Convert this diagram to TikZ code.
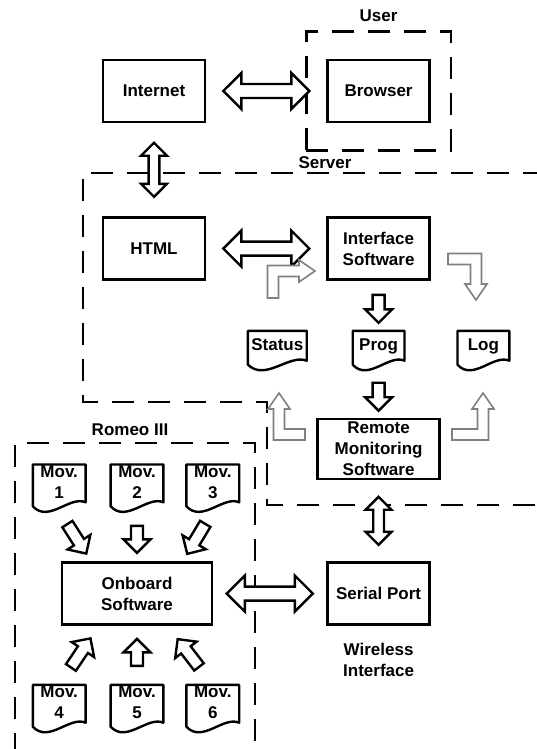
\documentclass[tikz,border=0pt]{standalone}
\usepackage{fontspec}
\setmainfont{Liberation Sans}
\usetikzlibrary{arrows.meta,positioning,shapes.arrows,calc,fit}

% paper sheet with a wavy lower edge, drawn round node #1
\newcommand{\docoutline}[1]{%
  \draw[docline] ($(#1.south west)+(0,-5)$) -- (#1.north west) -- (#1.north east)
    -- ($(#1.south east)+(0,-9)$)
    .. controls ($(#1.south east)!0.3!(#1.south west)+(0,-16)$)
    and ($(#1.south east)!0.7!(#1.south west)+(0,12)$) .. ($(#1.south west)+(0,-5)$) -- cycle;}

% hollow elbow arrow: #1 transform, #2 corner, #3 tail length, #4 tip distance
\newcommand{\bentarrow}[4]{%
  \begin{scope}[shift={#2},#1]
    \draw[bent] (-#3,-5.5) -- (-5.5,-5.5) -- (-5.5,{-#4+16}) -- (-11,{-#4+16}) -- (0,-#4)
      -- (11,{-#4+16}) -- (5.5,{-#4+16}) -- (5.5,5.5) -- (-#3,5.5) -- cycle;
  \end{scope}}

\begin{document}
\begin{tikzpicture}[x=0.5pt, y=-0.5pt,
    font=\fontsize{8.5}{10.5}\selectfont\bfseries,
    box/.style={draw, line width=1.3pt, minimum width=51pt, minimum height=31pt, align=center},
    doc/.style={minimum width=#1, minimum height=19pt, inner sep=0pt, align=center, text depth=6pt},
    docline/.style={line width=1.2pt, line join=round},
    zone/.style={draw, line width=1.4pt, dash pattern=on 11pt off 7pt},
    blk/.style={draw, line width=1.2pt, fill=white, sloped, allow upside down, inner xsep=0pt},
    sarr/.style={blk, single arrow, inner ysep=2.4pt, single arrow head extend=3.75pt, minimum height=#1},
    darr/.style={blk, double arrow, inner ysep=2.1pt, double arrow head extend=3.75pt, minimum height=#1},
    bigarr/.style={blk, double arrow, inner ysep=2.9pt, double arrow head extend=5.5pt, minimum height=43pt},
    bent/.style={draw=gray, line width=0.8pt, fill=white}
]
\useasboundingbox (0,0) rectangle (536,749);

% user side and web server
\node[box] (inet) at (154,91) {Internet};
\node[box, right=60pt of inet] (brow) {Browser};
\node[box, below=46.5pt of inet] (html) {HTML};
\node[box, right=60pt of html] (iface) {Interface\\Software};
\node[doc=25.5pt, below=25pt of iface] (prog) {Prog};
\node[doc=29pt, left=23pt of prog] (stat) {Status};
\node[doc=25.5pt, right=26.5pt of prog] (log) {Log};
\node[box, minimum width=61pt, minimum height=30pt, inner ysep=0pt, below=24pt of prog] (rms) {Remote\\Monitoring\\Software};
\node[box, below=40.5pt of rms] (ser) {Serial Port};

% robot side
\node[box, minimum width=75pt, left=56.5pt of ser] (onb) {Onboard\\Software};
\node[doc=26pt, minimum height=23pt, above=25pt of onb] (mov2) {Mov.\\2};
\node[doc=26pt, minimum height=23pt, left=12.5pt of mov2] (mov1) {Mov.\\1};
\node[doc=26pt, minimum height=23pt, right=11.5pt of mov2] (mov3) {Mov.\\3};
\node[doc=26pt, minimum height=23pt, below=29.5pt of onb] (mov5) {Mov.\\5};
\node[doc=26pt, minimum height=23pt, left=12.5pt of mov5] (mov4) {Mov.\\4};
\node[doc=26pt, minimum height=23pt, right=11.5pt of mov5] (mov6) {Mov.\\6};

\foreach \d in {stat,prog,log,mov1,mov2,mov3,mov4,mov5,mov6}
  \docoutline{\d};

% dashed zones
\node[zone, fit=(brow), inner xsep=10pt, inner ysep=13.5pt] (usr) {};
\draw[zone] (545,173) -- (83,173) -- (83,402) -- (267,402) -- (267,505) -- (545,505);
\draw[zone] (15,755) -- (15,443) -- (255,443) -- (255,755);
\node[above=1pt of usr] (usrlbl) {User};
\node (srvlbl) at (325,163) {Server};
\node (romlbl) at (130,430) {Romeo III};
\node[below=5pt of ser, align=center] (wless) {Wireless\\Interface};

% block arrows
\path (inet) -- node[bigarr] (ib) {} (brow);
\path (inet) -- node[darr=27pt] (ih) {} (html);
\path (html) -- node[bigarr] (hi) {} (iface);
\path (iface) -- node[sarr=14pt] (ip) {} (prog);
\path (prog) -- node[sarr=14pt] (pr) {} (rms);
\path (rms) -- node[darr=24pt] (rs) {} (ser);
\path (onb) -- node[bigarr] (os) {} (ser);
\path (mov1.south) -- node[sarr=17.5pt] (m1) {} ($(onb.north west)!0.2!(onb.north east)$);
\path (mov2) -- node[sarr=13.5pt] (m2) {} (mov2 |- onb.north);
\path (mov3.south) -- node[sarr=17.5pt] (m3) {} ($(onb.north east)!0.2!(onb.north west)$);
\path (mov4.north) -- node[sarr=17.5pt] (m4) {} ($(onb.south west)!0.25!(onb.south east)$);
\path (mov5) -- node[sarr=13.5pt] (m5) {} (mov5 |- onb.south);
\path (mov6.north) -- node[sarr=17.5pt] (m6) {} ($(onb.south east)!0.3!(onb.south west)$);

% hollow elbow arrows
\coordinate (bendsi) at (273,271);
\coordinate (bendil) at (476,259);
\coordinate (bendrs) at (279,434.5);
\coordinate (bendrl) at (483,434.5);
\bentarrow{cm={0,1,1,0,(0,0)}}{(bendsi)}{27}{42}
\bentarrow{yscale=-1}{(bendil)}{28}{41}
\bentarrow{xscale=-1}{(bendrs)}{26}{41.5}
\bentarrow{}{(bendrl)}{31}{41.5}
\end{tikzpicture}
\end{document}
